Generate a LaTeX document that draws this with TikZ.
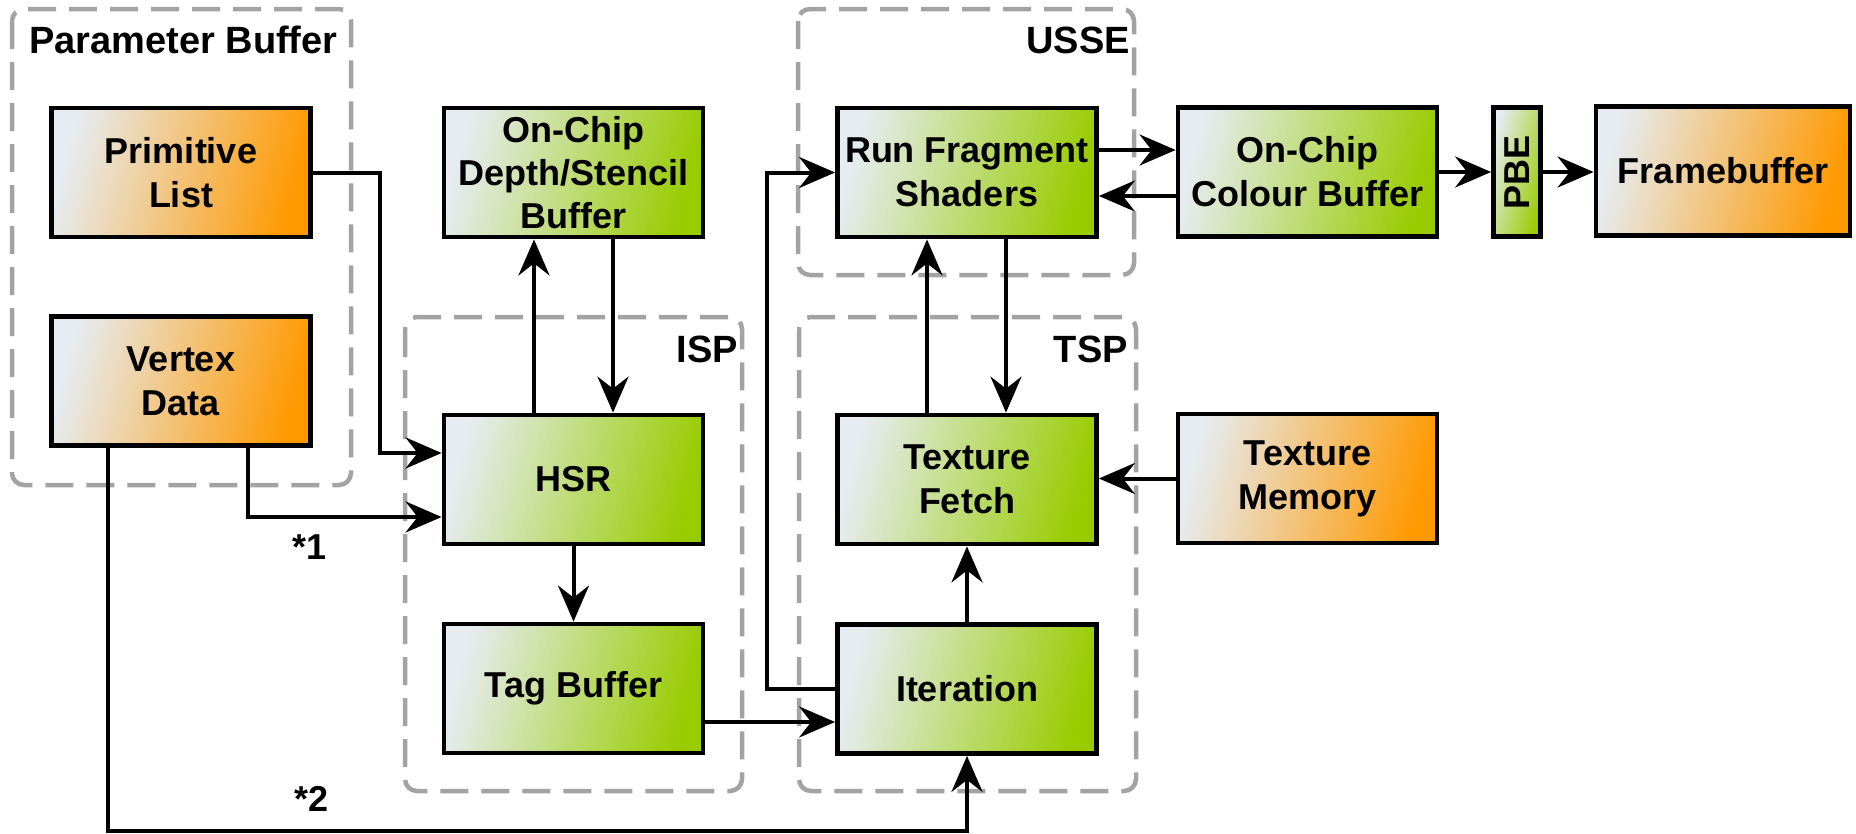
\documentclass[tikz,border=0pt]{standalone}
\usepackage{fontspec}
\setmainfont{Liberation Sans}
\usetikzlibrary{arrows.meta,calc}

\definecolor{lite}{HTML}{E6ECF2}
\definecolor{grn}{HTML}{99CC00}
\definecolor{org}{HTML}{FF9900}
\definecolor{dashgray}{HTML}{A3A3A3}

\newcommand\boxfont{\fontsize{36}{44}\selectfont\bfseries}
\newcommand\titlefont{\fontsize{38}{44}\selectfont\bfseries}

\tikzset{
  unit/.style={draw=black, line width=4.8pt, minimum width=259pt, minimum height=129pt,
    inner sep=0pt, align=center, font=\boxfont, text=black},
  gunit/.style={unit, left color=lite, right color=grn, shading angle=75},
  ounit/.style={unit, left color=lite, right color=org, shading angle=75},
  group/.style={draw=dashgray, line width=4.5pt, dash pattern=on 28pt off 13pt, rounded corners=12pt},
  grouplabel/.style={font=\titlefont, inner sep=0pt},
  conn/.style={line width=4pt, -{Stealth[length=36pt,width=31pt,inset=12pt]}},
  note/.style={font=\boxfont, inner sep=0pt},
}

\begin{document}
\begin{tikzpicture}[x=1pt, y=-1pt]
\useasboundingbox (0,0) rectangle (1856,833);

% dashed group outlines
\draw[group] (12,9) rectangle (351,485);
\draw[group] (405,317) rectangle (742,791);
\draw[group] (799,317) rectangle (1136,791);
\draw[group] (798,9) rectangle (1134,275);

\node[grouplabel, anchor=base west] (pblabel) at (29,53) {Parameter Buffer};
\node[grouplabel, anchor=base east] (usselabel) at (1130,53) {USSE};
\node[grouplabel, anchor=base east] (isplabel) at (738,362) {ISP};
\node[grouplabel, anchor=base east] (tsplabel) at (1128,362) {TSP};

% processing units
\node[ounit] (prim) at (181,172.5) {Primitive\\List};
\node[ounit] (vert) at (181,381) {Vertex\\Data};
\node[gunit, font=\fontsize{36}{43}\selectfont\bfseries] (depth) at (573.5,172.5) {On-Chip\\Depth/Stencil\\Buffer};
\node[gunit] (hsr) at (573.5,479.5) {HSR};
\node[gunit] (tag) at (573.5,688.5) {Tag Buffer};
\node[gunit] (rfs) at (967,172.5) {Run Fragment\\Shaders};
\node[gunit] (tex) at (967,479.5) {Texture\\Fetch};
\node[gunit] (iter) at (967,689) {Iteration};
\node[gunit] (col) at (1307.5,172) {On-Chip\\Colour Buffer};
\node[gunit, minimum width=47pt] (pbe) at (1517,172) {\rotatebox{90}{PBE}};
\node[ounit, minimum width=254pt] (fb) at (1723,171) {Framebuffer};
\node[ounit] (mem) at (1307.5,478.5) {Texture\\Memory};

% connectors
\draw[conn] (prim.east) -- ($(prim.east)+(67,0)$) |- ($(hsr.west)+(0,-26.5)$);
\draw[conn] ($(vert.south)+(67,0)$) |- ($(hsr.west)+(0,37.5)$);
\draw[conn] ($(vert.south)+(-73,0)$) |- ($(iter.south)+(0,75)$) -- (iter.south);
\node[note] (n1) at (310,547) {*1};
\node[note] (n2) at (312,799) {*2};

\draw[conn] ($(hsr.north)+(-39.5,0)$) -- ($(depth.south)+(-39.5,0)$);
\draw[conn] ($(depth.south)+(39.5,0)$) -- ($(hsr.north)+(39.5,0)$);
\draw[conn] (hsr.south) -- (tag.north);
\draw[conn] ($(tag.east)+(0,33.5)$) -- ($(iter.west)+(0,33)$);

\draw[conn] (iter.west) -- ($(iter.west)+(-68,0)$) |- (rfs.west);
\draw[conn] (iter.north) -- (tex.south);
\draw[conn] ($(tex.north)+(-40,0)$) -- ($(rfs.south)+(-40,0)$);
\draw[conn] ($(rfs.south)+(39,0)$) -- ($(tex.north)+(39,0)$);
\draw[conn] (mem.west) -- (tex.east |- mem.west);

\draw[conn] ($(rfs.east)+(0,-22.5)$) -- ($(col.west)+(0,-22)$);
\draw[conn] ($(col.west)+(0,24)$) -- ($(rfs.east)+(0,23.5)$);
\draw[conn] (col.east) -- (pbe.west);
\draw[conn] (pbe.east) -- (fb.west |- pbe.east);
\end{tikzpicture}
\end{document}
